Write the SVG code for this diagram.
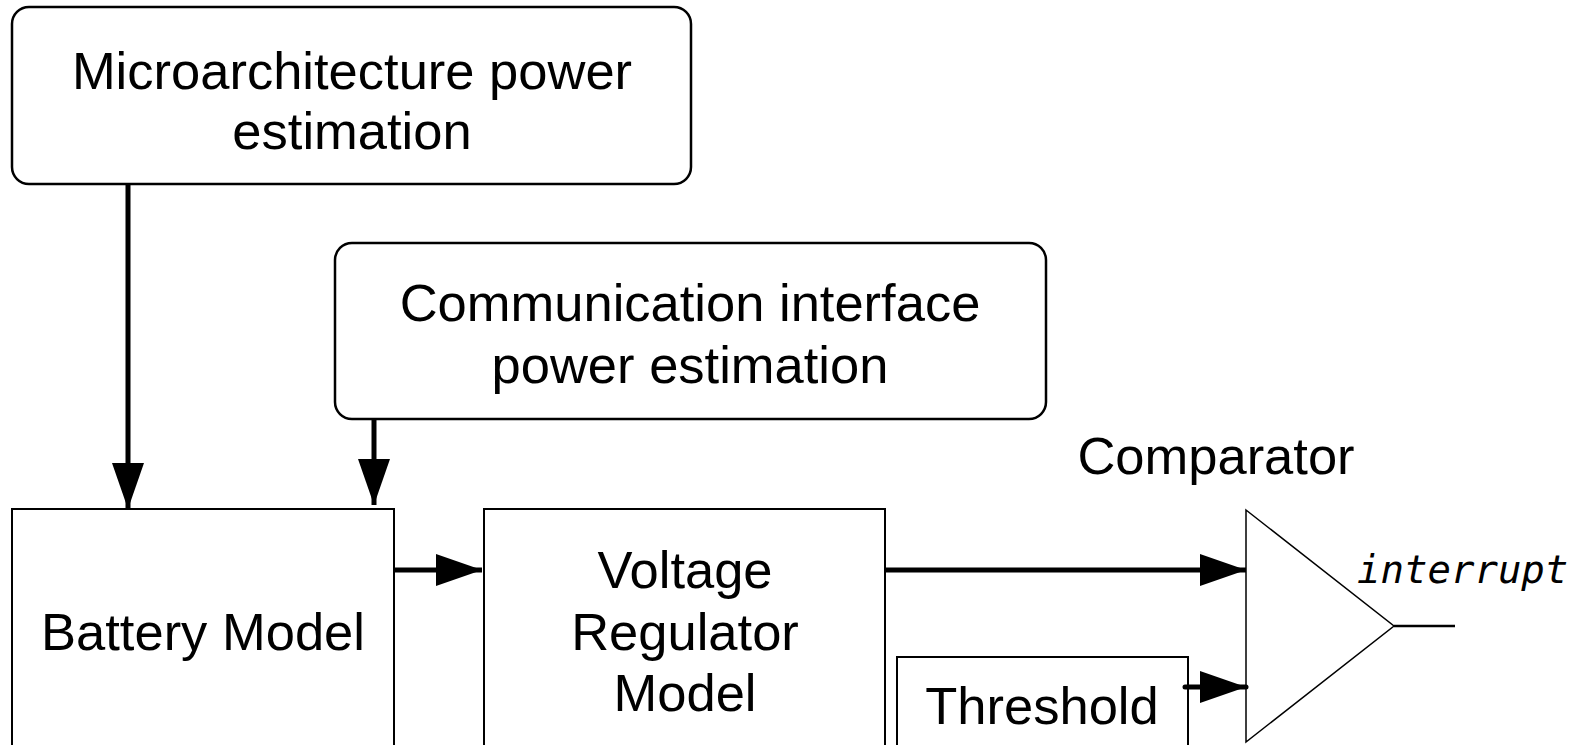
<svg xmlns="http://www.w3.org/2000/svg" width="1581" height="745" viewBox="0 0 1581 745">
  <style>
    .box { fill: #ffffff; stroke: #000000; stroke-width: 2.5; }
    .blk { fill: #ffffff; stroke: #000000; stroke-width: 2; }
    .lbl { font-family: "Liberation Sans", Arial, Helvetica, sans-serif; font-size: 52.5px; fill: #000000; text-anchor: middle; }
    .sig { font-family: "DejaVu Sans Mono", "Liberation Mono", monospace; font-style: italic; font-size: 39px; fill: #000000; }
    .wire { stroke: #000000; stroke-width: 5; fill: none; }
    .thin { stroke: #000000; stroke-width: 2.5; fill: none; }
  </style>
  <defs>
    <marker id="head" viewBox="0 0 46 32" refX="46" refY="16" markerWidth="46" markerHeight="32" markerUnits="userSpaceOnUse" orient="auto">
      <path d="M0,0 L46,16 L0,32 Z" fill="#000000"/>
    </marker>
  </defs>

  <rect width="1581" height="745" fill="#ffffff"/>

  <g id="micro-power">
    <rect class="box" x="12" y="7" width="679" height="177" rx="17" ry="17"/>
    <text class="lbl" x="352" y="89">Microarchitecture power</text>
    <text class="lbl" x="352" y="149">estimation</text>
  </g>

  <g id="comm-power">
    <rect class="box" x="335" y="243" width="711" height="176" rx="17" ry="17"/>
    <text class="lbl" x="690" y="321">Communication interface</text>
    <text class="lbl" x="690" y="383">power estimation</text>
  </g>

  <g id="battery">
    <rect class="blk" x="12" y="509" width="382" height="250"/>
    <text class="lbl" x="203" y="650">Battery Model</text>
  </g>

  <g id="regulator">
    <rect class="blk" x="484" y="509" width="401" height="250"/>
    <text class="lbl" x="685" y="588">Voltage</text>
    <text class="lbl" x="685" y="650">Regulator</text>
    <text class="lbl" x="685" y="711">Model</text>
  </g>

  <g id="threshold">
    <rect class="blk" x="897" y="657" width="291" height="110"/>
    <text class="lbl" x="1042" y="724">Threshold</text>
  </g>

  <g id="comparator">
    <path d="M1246,510 L1394,626 L1246,742 Z" fill="#ffffff" stroke="#000000" stroke-width="1.5"/>
    <text class="lbl" x="1216" y="474">Comparator</text>
    <text class="sig" x="1357" y="583">interrupt</text>
  </g>

  <g id="connectors">
    <line class="wire" x1="128" y1="185" x2="128" y2="509" marker-end="url(#head)"/>
    <line class="wire" x1="374" y1="419" x2="374" y2="505" marker-end="url(#head)"/>
    <line class="wire" x1="394" y1="570" x2="482" y2="570" marker-end="url(#head)"/>
    <line class="wire" x1="885" y1="570" x2="1246" y2="570" marker-end="url(#head)"/>
    <line class="wire" x1="1185" y1="687" x2="1246" y2="687" stroke-linecap="round" marker-end="url(#head)"/>
    <line class="thin" x1="1394" y1="626" x2="1455" y2="626"/>
  </g>
</svg>
